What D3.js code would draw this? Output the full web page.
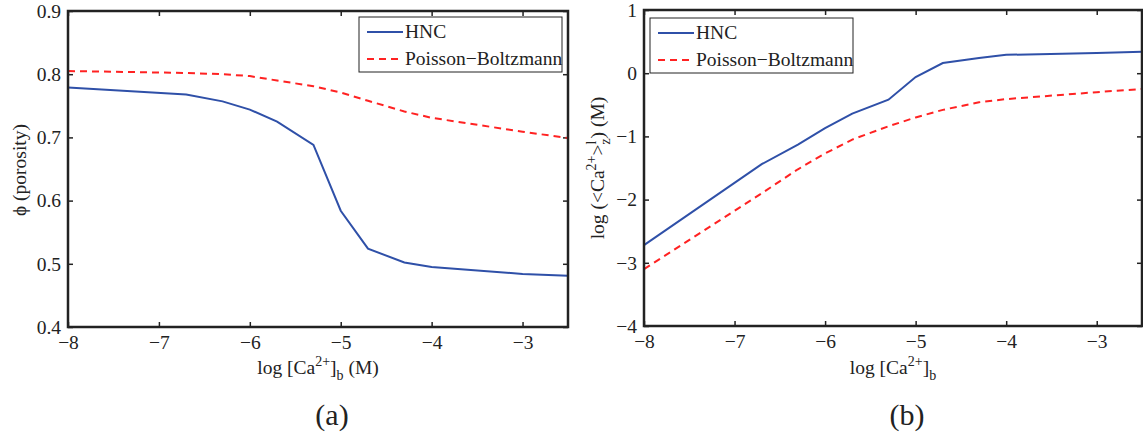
<!DOCTYPE html>
<html>
<head>
<meta charset="utf-8">
<script src="https://cdn.jsdelivr.net/npm/d3@7/dist/d3.min.js"></script>
<style>
  body { margin: 0; background: #fff; }
  svg text { font-family: "Liberation Serif", "DejaVu Serif", serif; fill: #222; }
</style>
</head>
<body>
<div id="chart"></div>
<script>
// log10 of bulk Ca2+ concentration (M)
var logCa = [-8, -6.7, -6.3, -6, -5.7, -5.3, -5, -4.7, -4.3, -4, -3, -2.5];

// panel (a): porosity
var porosityHNC = [0.779, 0.768, 0.757, 0.744, 0.725, 0.688, 0.584, 0.524, 0.502, 0.495, 0.484, 0.481];
var porosityPB  = [0.805, 0.802, 0.800, 0.797, 0.790, 0.781, 0.771, 0.758, 0.741, 0.731, 0.709, 0.699];

// panel (b): log <Ca2+>z
var layerHNC = [-2.72, -1.44, -1.13, -0.87, -0.64, -0.42, -0.06, 0.16, 0.24, 0.29, 0.32, 0.34];
var layerPB  = [-3.10, -1.90, -1.52, -1.27, -1.05, -0.84, -0.70, -0.58, -0.46, -0.41, -0.30, -0.25];

var xTicks = [-8, -7, -6, -5, -4, -3];
var yTicksA = [0.4, 0.5, 0.6, 0.7, 0.8, 0.9];
var yTicksB = [-4, -3, -2, -1, 0, 1];
var seriesNames = ["HNC", "Poisson\u2212Boltzmann"];

var svgWidth = 1143, svgHeight = 434;
var blue = "#2f50a8", red = "#ff2222";
var fs = 19.5;

var svg = d3.select("#chart").append("svg")
    .attr("width", svgWidth)
    .attr("height", svgHeight);

function styleAxis(s) {
    s.select(".domain").remove();
    s.selectAll("line").attr("stroke", "#222").attr("stroke-width", 1.5);
    s.selectAll("text").attr("font-size", fs).attr("fill", "#222");
}

function drawPanel(opts) {
    var g = svg.append("g");
    var x = d3.scaleLinear().domain([-8, -2.5]).range([opts.left, opts.right]);
    var y = d3.scaleLinear().domain(opts.yDomain).range([opts.bottom, opts.top]);

    // bottom axis with labels
    g.append("g")
        .attr("transform", "translate(0," + opts.bottom + ")")
        .call(d3.axisBottom(x).tickValues(xTicks).tickFormat(d3.format("d"))
            .tickSizeInner(-5).tickSizeOuter(0).tickPadding(8))
        .call(styleAxis);
    // top mirror ticks
    g.append("g")
        .attr("transform", "translate(0," + opts.top + ")")
        .call(d3.axisTop(x).tickValues(xTicks).tickSizeInner(-5).tickSizeOuter(0).tickFormat(""))
        .call(styleAxis);
    // left axis with labels
    g.append("g")
        .attr("transform", "translate(" + opts.left + ",0)")
        .call(d3.axisLeft(y).tickValues(opts.yTicks).tickFormat(d3.format(opts.yFormat))
            .tickSizeInner(-5).tickSizeOuter(0).tickPadding(7))
        .call(styleAxis);
    // right mirror ticks
    g.append("g")
        .attr("transform", "translate(" + opts.right + ",0)")
        .call(d3.axisRight(y).tickValues(opts.yTicks).tickSizeInner(-5).tickSizeOuter(0).tickFormat(""))
        .call(styleAxis);

    var line = d3.line()
        .x(function(d) { return x(d[0]); })
        .y(function(d) { return y(d[1]); });

    g.append("path")
        .datum(d3.zip(logCa, opts.hnc))
        .attr("d", line)
        .attr("fill", "none")
        .attr("stroke", blue)
        .attr("stroke-width", 2);

    g.append("path")
        .datum(d3.zip(logCa, opts.pb))
        .attr("d", line)
        .attr("fill", "none")
        .attr("stroke", red)
        .attr("stroke-width", 2)
        .attr("stroke-dasharray", "7,5");

    // box
    g.append("rect")
        .attr("x", opts.left)
        .attr("y", opts.top)
        .attr("width", opts.right - opts.left)
        .attr("height", opts.bottom - opts.top)
        .attr("fill", "none")
        .attr("stroke", "#222")
        .attr("stroke-width", 2.5);

    // legend
    var lg = g.append("g").attr("transform", "translate(" + opts.legendX + "," + opts.legendY + ")");
    lg.append("rect")
        .attr("width", 203).attr("height", 55)
        .attr("fill", "#fff").attr("stroke", "#222").attr("stroke-width", 1);
    seriesNames.forEach(function(name, i) {
        var yy = 15 + i * 27;
        lg.append("line")
            .attr("x1", 8).attr("x2", 44).attr("y1", yy).attr("y2", yy)
            .attr("stroke", i === 0 ? blue : red)
            .attr("stroke-width", 2)
            .attr("stroke-dasharray", i === 0 ? null : "7,5");
        lg.append("text")
            .attr("x", 46).attr("y", yy + 6)
            .attr("font-size", fs)
            .text(name);
    });

    // x label
    var xl = g.append("text")
        .attr("x", (opts.left + opts.right) / 2)
        .attr("y", 374)
        .attr("text-anchor", "middle")
        .attr("font-size", fs);
    xl.append("tspan").text("log [Ca");
    xl.append("tspan").attr("dy", -8).attr("font-size", 14).text("2+");
    xl.append("tspan").attr("dy", 8).text("]");
    xl.append("tspan").attr("dy", 6).attr("font-size", 14).text("b");
    if (opts.xUnit) xl.append("tspan").attr("dy", -6).text(" (M)");

    // panel caption
    g.append("text")
        .attr("x", (opts.left + opts.right) / 2 + 14)
        .attr("y", 425)
        .attr("text-anchor", "middle")
        .attr("font-size", 30)
        .text(opts.caption);

    return g;
}

var gA = drawPanel({
    left: 68, right: 568, top: 11, bottom: 327,
    yDomain: [0.4, 0.9], yTicks: yTicksA, yFormat: ".1f",
    hnc: porosityHNC, pb: porosityPB,
    legendX: 359, legendY: 17, caption: "(a)", xUnit: true
});

var gB = drawPanel({
    left: 644, right: 1142, top: 10, bottom: 326,
    yDomain: [-4, 1], yTicks: yTicksB, yFormat: "d",
    hnc: layerHNC, pb: layerPB,
    legendX: 650, legendY: 18, caption: "(b)", xUnit: false
});

// y labels
gA.append("text")
    .attr("transform", "translate(26,170) rotate(-90)")
    .attr("text-anchor", "middle")
    .attr("font-size", fs)
    .text("\u03d5 (porosity)");

var yl = gB.append("text")
    .attr("transform", "translate(604,168) rotate(-90)")
    .attr("text-anchor", "middle")
    .attr("font-size", fs);
yl.append("tspan").text("log (<Ca");
yl.append("tspan").attr("dy", -8).attr("font-size", 14).text("2+");
yl.append("tspan").attr("dy", 8).text(">");
yl.append("tspan").attr("dy", -8).attr("font-size", 14).text("l");
yl.append("tspan").attr("dx", -4).attr("dy", 14).attr("font-size", 14).text("z");
yl.append("tspan").attr("dy", -6).text(") (M)");
</script>
</body>
</html>
